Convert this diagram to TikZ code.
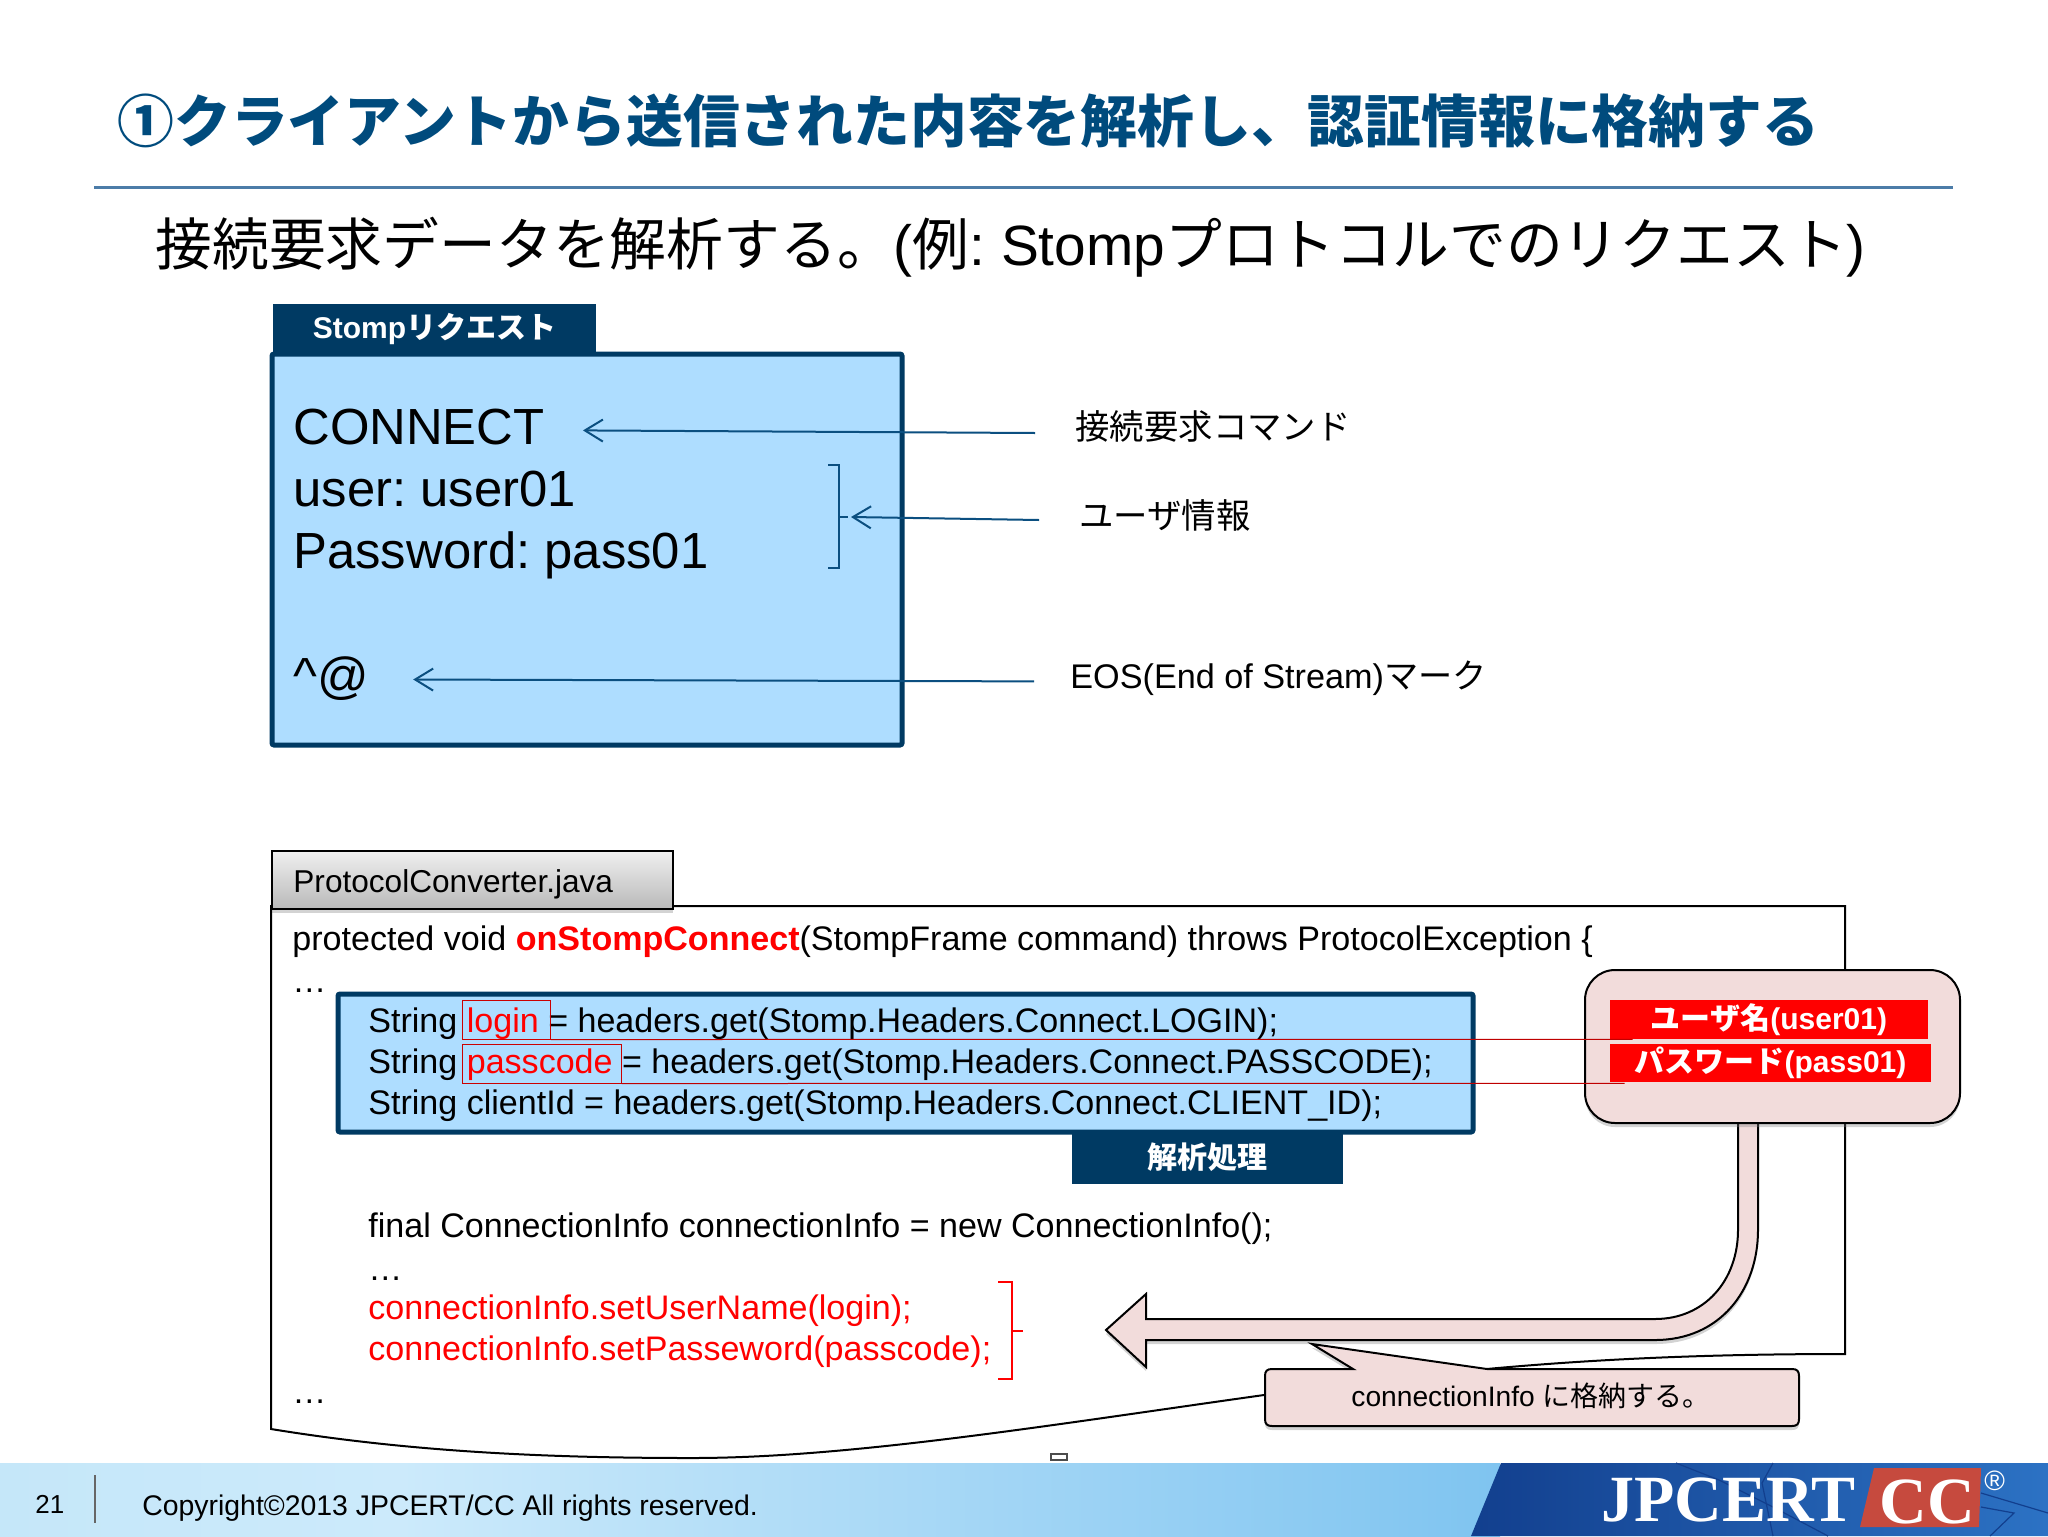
\documentclass[tikz,border=0pt]{standalone}
\usepackage{fontspec}
\setmainfont{Liberation Sans}
\newfontfamily\cjkfont{Noto Sans CJK JP}
\newfontfamily\logofont{Liberation Serif}
\usetikzlibrary{shadows}
\usetikzlibrary{arrows.meta}

\definecolor{navy}{HTML}{003A63}
\definecolor{arrowblue}{HTML}{0B4F80}
\definecolor{titleblue}{HTML}{004B7D}
\definecolor{rulesteel}{HTML}{4C7CA8}
\definecolor{paleblue}{HTML}{AEDDFF}
\definecolor{palerose}{HTML}{F2DCDB}
\definecolor{logodark}{HTML}{123F8E}
\definecolor{logoblue}{HTML}{2C72C4}
\definecolor{logored}{HTML}{C64A3E}
\definecolor{barstart}{HTML}{C5E7F9}
\definecolor{barmid}{HTML}{CCEAFB}
\definecolor{barend}{HTML}{7FC4F0}

\newcommand{\jp}[1]{{\cjkfont #1}}
\newcommand{\pts}[1]{\fontsize{#1}{#1}\selectfont}

\tikzset{
  textline/.style={anchor=base west, inner sep=0pt},
  codeline/.style={textline, font=\pts{17.03}},
  bigline/.style={textline, font=\pts{25.4}},
  notelabel/.style={anchor=west, inner sep=0pt, font=\pts{17.2}},
  infoarrow/.style={arrowblue, line width=1pt, ->, >={Straight Barb[length=9pt,width=11pt]}},
  darktab/.style={fill=navy, draw=none, inner sep=0pt, text=white, font=\pts{15}\bfseries},
  redmark/.style={draw=red!80!black, line width=.5pt, inner sep=0pt},
  redbar/.style={fill=red, inner sep=0pt, text=white, font=\pts{15}\bfseries},
  redlink/.style={red!75!black, line width=.5pt},
  rosebox/.style={fill=palerose, draw=black, line width=1pt, drop shadow={shadow xshift=0pt, shadow yshift=-2pt, opacity=.35}},
}

\begin{document}
\frenchspacing
\begin{tikzpicture}[x=.5pt, y=-.5pt]

   \useasboundingbox (0,0) rectangle (2048,1536);

   % title
   \node[textline, text=titleblue, font=\pts{28.4}\bfseries] (titletext) at (117,142)
      {\jp{①クライアントから送信された内容を解析し、認証情報に格納する}};
   \draw[rulesteel, line width=1.5pt] (94,187) -- (1953,187);
   \node[bigline, font=\pts{28.4}] (subtitle) at (155,265)
      {\jp{接続要求データを解析する。}(\jp{例}: Stomp\jp{プロトコルでのリクエスト})};

   % request box
   \filldraw[fill=paleblue, draw=navy, line width=2.5pt, rounded corners=1pt] (272,354) rectangle (902,745);
   \node[darktab, minimum width=161.5pt, minimum height=25pt] (stomptab) at (434.5,329) {\raisebox{1.5pt}{Stomp\jp{リクエスト}}};

   \node[bigline] (connecttext) at (293,444.5) {CONNECT};
   \node[bigline] (usertext) at (293,506.5) {user: user01};
   \node[bigline] (passtext) at (293,568.5) {Password: pass01};
   \node[bigline] (eostext) at (293,693) {\^{}@};

   \node[notelabel] (cmdlabel) at (1075,426) {\jp{接続要求コマンド}};
   \node[notelabel] (userlabel) at (1079,515) {\jp{ユーザ情報}};
   \node[notelabel, font=\pts{17.1}] (eoslabel) at (1070,678) {EOS(End of Stream)\jp{マーク}};

   \draw[arrowblue, line width=1pt] (828,465) -- (839,465) -- (839,568) -- (828,568);
   \coordinate (userbrace) at (839,517);
   \draw[arrowblue, line width=1pt] (userbrace) -- (848,517);

   \draw[infoarrow] ([xshift=-20pt,yshift=-3.5pt]cmdlabel.west) -- ([xshift=19pt,yshift=-1.7pt]connecttext.east);
   \draw[infoarrow] ([xshift=-20pt,yshift=-2.5pt]userlabel.west) -- ([xshift=6pt]userbrace);
   \draw[infoarrow] ([xshift=-18pt,yshift=-1.7pt]eoslabel.west) -- ([xshift=22pt,yshift=-.7pt]eostext.east);

   % source listing
   \draw[black, line width=1pt] (271,906) -- (1845,906) -- (1845,1354)
      .. controls (1600,1354) and (1450,1370) .. (1264,1395)
      .. controls (1050,1425) and (850,1458) .. (692,1458)
      .. controls (530,1458) and (400,1450) .. (271,1429) -- cycle;

   \node[draw=black, line width=1pt, top color=white!88!gray, bottom color=gray!55, minimum width=200.5pt, minimum height=29pt, inner sep=0pt,
      drop shadow={shadow xshift=0pt, shadow yshift=-2pt, opacity=.35}] (javatab) at (472.5,880) {};
   \node[codeline, font=\pts{15.8}] (javaname) at (293,892) {ProtocolConverter.java};

   \node[codeline] (protoline) at (292,950.5)
      {protected void \textcolor{red}{\textbf{onStompConnect}}(StompFrame command) throws ProtocolException \{};
   \node[codeline] (dotsa) at (292,992) {…};

   \filldraw[fill=paleblue, draw=navy, line width=2.5pt, rounded corners=1pt] (338,994) rectangle (1473,1132);
   \node[darktab, minimum width=135.5pt, minimum height=25.5pt] (parsetab) at (1207.5,1158.5) {\raisebox{3pt}{\jp{解析処理}}};

   \node[codeline] (loginline) at (368,1032.5)
      {String \textcolor{red}{login} = headers.get(Stomp.Headers.Connect.LOGIN);};
   \node[codeline] (passline) at (368,1073.5)
      {String \textcolor{red}{passcode} = headers.get(Stomp.Headers.Connect.PASSCODE);};
   \node[codeline] (clientline) at (368,1114.5)
      {String clientId = headers.get(Stomp.Headers.Connect.CLIENT\_ID);};

   \node[codeline] (finalline) at (368,1237.5) {final ConnectionInfo connectionInfo = new ConnectionInfo();};
   \node[codeline] (dotsb) at (368,1280) {…};
   \node[codeline, text=red] (setuser) at (368,1319.5) {connectionInfo.setUserName(login);};
   \node[codeline, text=red] (setpass) at (368,1360.5) {connectionInfo.setPasseword(passcode);};
   \node[codeline] (dotsc) at (292,1403) {…};

   \draw[red, line width=1pt] (998,1282) -- (1012,1282) -- (1012,1379) -- (998,1379);
   \draw[red, line width=1pt] (1012,1331) -- (1023,1331);

   % thick arrow back to the setters
   \filldraw[rosebox] (1738,1115) -- (1738,1230)
      .. controls (1738,1280) and (1705,1319) .. (1655,1319)
      -- (1146,1319) -- (1146,1294) -- (1106,1330) -- (1146,1367) -- (1146,1340) -- (1655,1340)
      .. controls (1720,1340) and (1758,1290) .. (1758,1230) -- (1758,1115) -- cycle;

   % user and password callout
   \node[rosebox, rounded corners=15pt, minimum width=187.5pt, minimum height=76.5pt, inner sep=0pt] (creditbox) at (1772.5,1046.5) {};
   \node[redbar, minimum width=159pt, minimum height=19.5pt] (userbar) at (1769,1019.5) {\jp{ユーザ名}(user01)};
   \node[redbar, minimum width=160.5pt, minimum height=19pt] (passbar) at (1770.5,1063) {\jp{パスワード}(pass01)};

   \node[redmark, minimum width=44pt, minimum height=19.5pt] (loginbox) at (506.5,1019.5) {};
   \node[redmark, minimum width=79.5pt, minimum height=19.5pt] (passbox) at (541.5,1063.5) {};
   \draw[redlink] (loginbox.south east) -- ([xshift=11.5pt]userbar.south west);
   \draw[redlink] (passbox.south east) -- ([xshift=7.5pt,yshift=-.5pt]passbar.south west);

   % lower callout
   \filldraw[rosebox] (1272,1369) -- (1353,1369) -- (1312,1344) -- (1487,1369) -- (1792,1369)
      .. controls (1797,1369) and (1799,1371) .. (1799,1376) -- (1799,1419)
      .. controls (1799,1424) and (1797,1426) .. (1792,1426) -- (1272,1426)
      .. controls (1267,1426) and (1265,1424) .. (1265,1419) -- (1265,1376)
      .. controls (1265,1371) and (1267,1369) .. (1272,1369) -- cycle;
   \node[textline, font=\pts{14.1}] (storenote) at (1351,1406) {connectionInfo \jp{\pts{14}に格納する。}};

   \filldraw[fill=white, draw=black!70, line width=.6pt] (1051,1454) rectangle (1067,1460);

   % footer
   \shade[left color=barstart, right color=barmid] (0,1463) rectangle (401,1536);
   \shade[left color=barmid, right color=barend] (400,1463) rectangle (1500,1536);
   \shade[left color=logodark, right color=logoblue] (1471,1536) -- (1501,1463) -- (2048,1463) -- (2048,1536) -- cycle;
   \draw[logodark, line width=.6pt] (1676,1463) -- (1719,1480) -- (1773,1507) -- (1828,1536);
   \draw[logodark, line width=.6pt] (1773,1463) -- (1762,1483) -- (1773,1536);
   \draw[logodark, line width=.6pt] (1981,1493) -- (2048,1513);
   \draw[logodark, line width=.6pt] (1981,1507) -- (2014,1513) -- (1990,1536);
   \fill[logored] (1874,1468) -- (1981,1468) -- (1979,1527) -- (1860,1527) -- cycle;
   \node[textline, text=white, font=\logofont\pts{33}\bfseries] (jpcert) at (1601,1521) {JPCERT};
   \node[textline, text=white, font=\logofont\pts{33}\bfseries] (cclogo) at (1879,1523) {CC};
   \node[textline, text=white, font=\pts{14}] (regmark) at (1984,1490) {®};

   \node[textline, font=\pts{13}] (pagenum) at (35,1513) {21};
   \draw[black!60, line width=.6pt] (95,1475) -- (95,1523);
   \node[textline, font=\pts{14.2}] (copyline) at (142,1515) {Copyright©2013 JPCERT/CC All rights reserved.};

\end{tikzpicture}
\end{document}
